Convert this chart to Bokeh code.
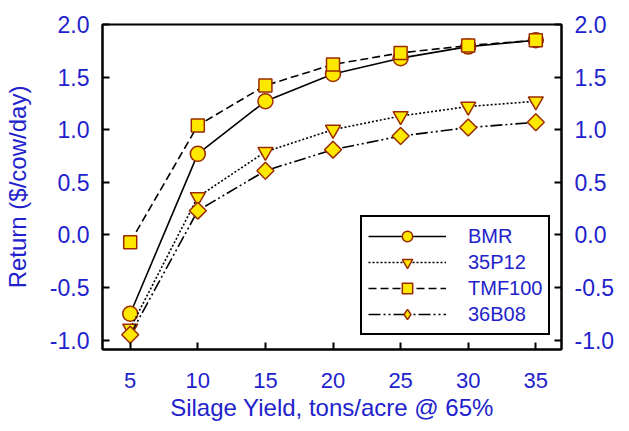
from bokeh.plotting import figure
from bokeh.models import LinearAxis, Range1d, FixedTicker, Legend, LegendItem
from bokeh.embed import file_html
from bokeh.resources import INLINE

yield_x = [5, 10, 15, 20, 25, 30, 35]
bmr = [-0.75, 0.77, 1.27, 1.53, 1.68, 1.79, 1.85]
p35p12 = [-0.89, 0.36, 0.79, 1.00, 1.13, 1.22, 1.27]
tmf100 = [-0.07, 1.04, 1.42, 1.62, 1.73, 1.80, 1.85]
b36b08 = [-0.95, 0.23, 0.61, 0.81, 0.94, 1.02, 1.07]
x_ticks = [5, 10, 15, 20, 25, 30, 35]
y_ticks = [-1.0, -0.5, 0.0, 0.5, 1.0, 1.5, 2.0]
x_title = "Silage Yield, tons/acre @ 65%"
y_title = "Return ($/cow/day)"

FONT = "Liberation Sans"
BLUE = "#2222cc"
FILL = "#ffe800"
EDGE = "#9a2a00"
X0, X1 = 2.95, 36.9
Y0, Y1 = -1.09, 2.0

p = figure(width=621, height=423, output_backend="svg", toolbar_location=None,
           x_range=Range1d(X0, X1), y_range=Range1d(Y0, Y1),
           min_border_left=98, min_border_right=60, min_border_top=24, min_border_bottom=74)
p.grid.visible = False
p.outline_line_color = "black"
p.outline_line_width = 2
p.background_fill_color = "white"

series = [
    ("BMR", bmr, "solid", "circle", 15, 0.0),
    ("35P12", p35p12, "2 2", "inverted_triangle", 15, 0.0),
    ("TMF100", tmf100, "8 4", "square", 13, 0.0),
    ("36B08", b36b08, "12 3 2 3 2 3", "square", 12, 0.785398),
]

items = []
for name, ys, dash, marker, size, ang in series:
    l = p.line(yield_x, ys, line_color="black", line_width=1.6, line_dash=dash)
    s = p.scatter(yield_x, ys, marker=marker, size=size, angle=ang, fill_color=FILL,
                  line_color=EDGE, line_width=1.5)
    rends = [l, s]
    if ang != 0.0:
        # legend sample for the rotated-square (diamond) markers
        h = p.scatter(yield_x, ys, marker="diamond", size=size, fill_color=FILL,
                      line_color=EDGE, line_width=1.5, visible=False)
        rends = [l, h]
    items.append(LegendItem(label=name, renderers=rends))

legend = Legend(items=items, location=(258, 14), border_line_color="black",
                border_line_width=2, border_line_alpha=1.0, background_fill_alpha=1.0,
                label_text_font=FONT, label_text_font_size="20px",
                label_text_color=BLUE, glyph_width=78, glyph_height=26,
                label_height=22, spacing=0, padding=6, label_standoff=22,
                margin=0)
p.add_layout(legend, "center")

p.yaxis.visible = False
p.xaxis.visible = False

def style(ax, size="23px"):
    ax.axis_line_color = "black"
    ax.axis_line_width = 2
    ax.major_tick_line_color = "black"
    ax.major_tick_line_width = 2
    ax.major_tick_in = 7
    ax.major_tick_out = 0
    ax.minor_tick_line_color = None
    ax.major_label_text_font = FONT
    ax.major_label_text_font_size = size
    ax.major_label_text_color = BLUE
    ax.axis_label_text_font = FONT
    ax.axis_label_text_font_size = "24px"
    ax.axis_label_text_color = BLUE
    ax.axis_label_text_font_style = "normal"

left = LinearAxis(ticker=FixedTicker(ticks=y_ticks), axis_label=y_title)
style(left)
left.major_label_standoff = 13
left.axis_label_standoff = 16
left.major_label_overrides = {v: f"{v:.1f}" for v in y_ticks}
p.add_layout(left, "left")

right = LinearAxis(ticker=FixedTicker(ticks=y_ticks))
style(right)
right.major_label_standoff = 13
right.axis_label_standoff = 0
right.major_label_overrides = {v: f"{v:.1f}" for v in y_ticks}
p.add_layout(right, "right")

bottom = LinearAxis(ticker=FixedTicker(ticks=x_ticks), axis_label=x_title)
style(bottom, "22px")
bottom.major_label_standoff = 23
bottom.axis_label_standoff = 3
p.add_layout(bottom, "below")

open("out.html", "w").write(file_html(p, INLINE))
